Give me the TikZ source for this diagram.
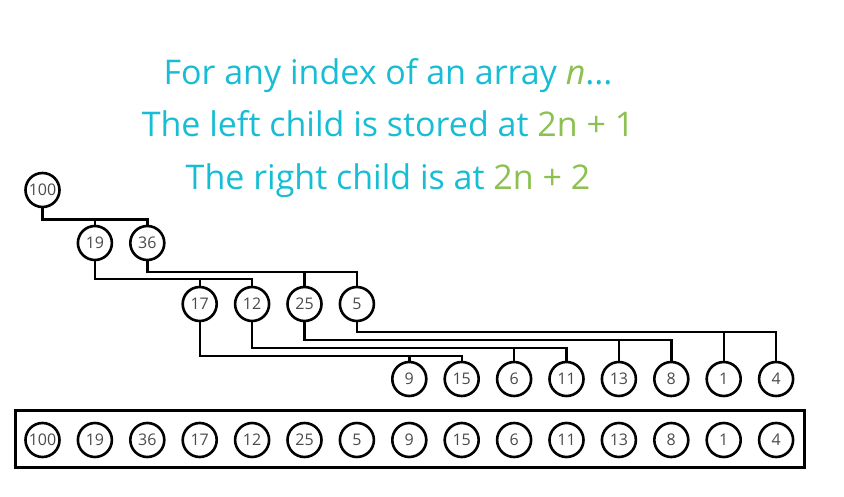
\documentclass[tikz,border=0pt]{standalone}
\usepackage{fontspec}
\setmainfont{Open Sans}
\definecolor{heapcyan}{HTML}{17BDD5}
\definecolor{heapgreen}{HTML}{8CC152}
\definecolor{heapgray}{HTML}{4A4A4A}

\begin{document}
\begin{tikzpicture}[x=1pt, y=-1pt,
  heapnode/.style={circle, draw=black, line width=2.6pt, minimum size=34pt, inner sep=0pt,
    font=\fontsize{16}{16}\selectfont, text=heapgray},
  branch/.style={line width=2.4pt, color=black},
  caption/.style={anchor=base, font=\fontsize{34}{40}\selectfont, text=heapcyan}]
  \useasboundingbox (0,0) rectangle (844,497);

  % Caption
  \node[caption] (cap1) at (388,85) {For any index of an array \textcolor{heapgreen}{\textit{n}}...};
  \node[caption] (cap2) at (388,137) {The left child is stored at \textcolor{heapgreen}{2n + 1}};
  \node[caption] (cap3) at (388,190) {The right child is at \textcolor{heapgreen}{2n + 2}};

  % Tree nodes
  \node[heapnode] (t0) at (42.5,190) {100};
  \node[heapnode] (t1) at (94.9,243) {19};
  \node[heapnode] (t2) at (147.3,243) {36};
  \node[heapnode] (t3) at (199.7,304) {17};
  \node[heapnode] (t4) at (252.1,304) {12};
  \node[heapnode] (t5) at (304.5,304) {25};
  \node[heapnode] (t6) at (356.9,304) {5};
  \node[heapnode] (t7) at (409.3,379) {9};
  \node[heapnode] (t8) at (461.7,379) {15};
  \node[heapnode] (t9) at (514.1,379) {6};
  \node[heapnode] (t10) at (566.5,379) {11};
  \node[heapnode] (t11) at (618.9,379) {13};
  \node[heapnode] (t12) at (671.3,379) {8};
  \node[heapnode] (t13) at (723.7,379) {1};
  \node[heapnode] (t14) at (776.1,379) {4};

  % Bar heights of the branches
  \coordinate (bar0) at (0,219.5);
  \coordinate (bar1) at (0,279);
  \coordinate (bar2) at (0,272);
  \coordinate (bar3) at (0,356);
  \coordinate (bar4) at (0,348);
  \coordinate (bar5) at (0,340);
  \coordinate (bar6) at (0,332);

  % Branches
  \draw[branch] (t0.south) |- (bar0 -| t2) -- (t2.north);
  \draw[branch] (t1.north) -- (t1.north |- bar0);
  \draw[branch] (t1.south) |- (bar1 -| t4) -- (t4.north);
  \draw[branch] (t3.north) -- (t3.north |- bar1);
  \draw[branch] (t2.south) |- (bar2 -| t6) -- (t6.north);
  \draw[branch] (t5.north) -- (t5.north |- bar2);
  \draw[branch] (t3.south) |- (bar3 -| t8) -- (t8.north);
  \draw[branch] (t7.north) -- (t7.north |- bar3);
  \draw[branch] (t4.south) |- (bar4 -| t10) -- (t10.north);
  \draw[branch] (t9.north) -- (t9.north |- bar4);
  \draw[branch] (t5.south) |- (bar5 -| t12) -- (t12.north);
  \draw[branch] (t11.north) -- (t11.north |- bar5);
  \draw[branch] (t6.south) |- (bar6 -| t14) -- (t14.north);
  \draw[branch] (t13.north) -- (t13.north |- bar6);

  % Array
  \draw[line width=3pt] (15,410) rectangle (804,467.5);
  \node[heapnode] (a0) at (42.5,440) {100};
  \node[heapnode] (a1) at (94.9,440) {19};
  \node[heapnode] (a2) at (147.3,440) {36};
  \node[heapnode] (a3) at (199.7,440) {17};
  \node[heapnode] (a4) at (252.1,440) {12};
  \node[heapnode] (a5) at (304.5,440) {25};
  \node[heapnode] (a6) at (356.9,440) {5};
  \node[heapnode] (a7) at (409.3,440) {9};
  \node[heapnode] (a8) at (461.7,440) {15};
  \node[heapnode] (a9) at (514.1,440) {6};
  \node[heapnode] (a10) at (566.5,440) {11};
  \node[heapnode] (a11) at (618.9,440) {13};
  \node[heapnode] (a12) at (671.3,440) {8};
  \node[heapnode] (a13) at (723.7,440) {1};
  \node[heapnode] (a14) at (776.1,440) {4};
\end{tikzpicture}
\end{document}
